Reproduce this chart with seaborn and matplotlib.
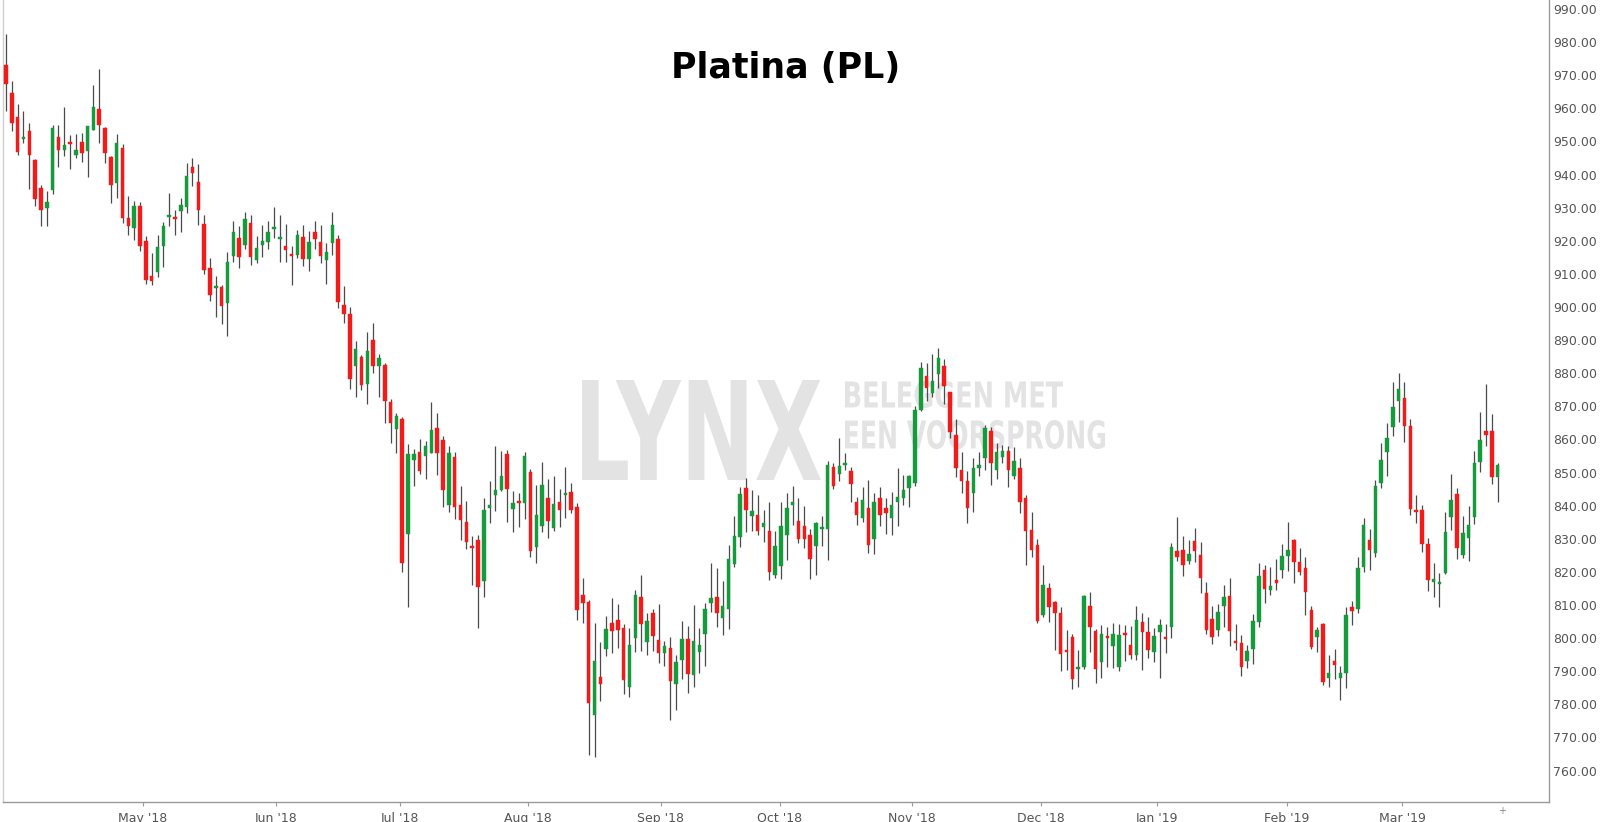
import numpy as np
import pandas as pd
import matplotlib
matplotlib.use('Agg')
import matplotlib.pyplot as plt
import seaborn as sns
from matplotlib.textpath import TextPath
from matplotlib.patches import PathPatch
from matplotlib.font_manager import FontProperties
from matplotlib.transforms import Affine2D

# ── Data: daily OHLC, platinum futures Apr 2018 - Mar 2019 ───────────────────
opens = [
    973.1, 964.5, 957.3, 950.7, 953.1, 944.4, 935.9, 930.0, 935.3, 951.2,
    947.4, 949.7, 945.8, 949.9, 947.2, 953.5, 959.7, 954.0, 945.2, 937.4,
    948.1, 926.8, 923.8, 930.5, 920.0, 909.5, 910.7, 918.4, 927.1, 927.0,
    929.0, 930.3, 942.4, 937.7, 925.1, 911.7, 905.6, 905.9, 901.1, 915.4,
    920.8, 918.7, 925.3, 914.2, 918.7, 919.5, 923.6, 920.4, 918.5, 916.1,
    915.7, 921.0, 914.6, 922.6, 919.6, 914.2, 919.3, 920.5, 900.6, 897.9,
    882.3, 885.0, 876.8, 890.0, 882.3, 882.6, 871.4, 863.1, 866.1, 831.4,
    853.8, 856.1, 855.0, 856.0, 863.4, 859.9, 840.2, 854.8, 840.1, 835.1,
    827.9, 829.7, 817.1, 839.2, 843.3, 844.8, 855.6, 838.9, 841.2, 840.7,
    850.3, 827.6, 833.9, 842.2, 833.2, 841.2, 843.2, 844.2, 839.5, 813.0,
    810.8, 776.8, 788.4, 796.6, 804.7, 805.5, 803.0, 785.3, 800.0, 812.5,
    798.9, 807.5, 799.3, 795.4, 796.9, 786.2, 793.4, 799.7, 788.9, 795.7,
    801.2, 810.5, 812.5, 806.0, 808.8, 822.4, 830.5, 845.3, 836.9, 837.2,
    833.5, 832.2, 819.1, 821.8, 831.2, 840.2, 835.5, 833.7, 831.2, 827.8,
    832.9, 832.9, 851.6, 849.6, 852.2, 850.6, 841.2, 836.2, 839.2, 829.9,
    842.2, 839.2, 836.2, 841.2, 842.2, 845.3, 846.8, 868.9, 879.2, 874.0,
    879.7, 882.2, 874.2, 861.4, 850.8, 847.3, 843.7, 851.3, 854.3, 862.4,
    850.8, 854.8, 856.5, 848.8, 851.5, 842.2, 832.7, 828.1, 807.0, 815.1,
    811.0, 807.5, 796.1, 800.4, 790.7, 791.4, 809.8, 802.0, 792.9, 800.5,
    797.7, 791.4, 801.2, 797.9, 794.9, 804.8, 801.9, 795.9, 801.7, 800.2,
    803.2, 826.4, 826.6, 823.4, 829.3, 825.0, 813.5, 805.8, 802.5, 809.7,
    812.7, 798.7, 798.4, 793.2, 796.6, 805.0, 820.6, 814.5, 817.6, 820.6,
    824.8, 829.6, 823.1, 821.3, 808.5, 800.3, 804.2, 787.9, 793.1, 787.9,
    789.6, 809.5, 808.7, 821.6, 829.6, 825.6, 846.8, 856.3, 863.7, 871.5,
    872.4, 864.1, 838.7, 838.7, 828.3, 816.8, 816.3, 819.6, 836.7, 843.5,
    825.1, 830.3, 836.7, 853.1, 862.6, 862.6, 848.6,
]
highs = [
    982.5, 968.3, 961.2, 959.2, 955.5, 944.6, 936.9, 934.9, 955.0, 955.0,
    960.5, 952.0, 952.3, 952.5, 954.7, 967.0, 972.0, 954.3, 945.6, 952.2,
    949.1, 933.5, 932.0, 931.6, 921.3, 916.2, 921.6, 925.8, 934.4, 929.3,
    932.8, 943.6, 944.9, 943.2, 927.8, 914.7, 909.4, 906.5, 916.5, 926.0,
    924.5, 928.8, 927.8, 921.3, 924.8, 926.0, 930.1, 927.8, 925.1, 918.4,
    923.3, 924.8, 922.8, 926.1, 924.9, 919.3, 928.8, 921.8, 906.2, 900.1,
    889.6, 885.5, 892.3, 895.1, 885.7, 883.0, 872.1, 867.9, 866.9, 858.7,
    857.1, 860.1, 859.4, 871.4, 868.1, 861.1, 857.9, 856.3, 845.8, 841.5,
    830.7, 831.2, 842.2, 847.5, 857.9, 856.6, 856.8, 844.5, 843.9, 856.3,
    851.0, 846.3, 853.1, 848.0, 848.8, 845.0, 851.6, 846.8, 840.9, 818.1,
    811.5, 804.5, 798.9, 806.7, 812.0, 810.2, 804.3, 803.0, 814.5, 819.1,
    807.5, 808.7, 810.3, 799.0, 800.3, 794.9, 805.2, 803.7, 810.0, 803.0,
    810.7, 822.6, 821.3, 817.1, 828.1, 836.9, 845.6, 848.3, 844.6, 843.2,
    838.7, 841.2, 832.2, 841.2, 843.7, 845.8, 842.2, 839.9, 832.9, 835.2,
    836.9, 853.5, 852.8, 860.4, 856.0, 851.8, 842.7, 845.6, 847.8, 843.7,
    845.5, 842.4, 844.2, 851.3, 849.3, 849.3, 870.1, 883.5, 883.2, 885.8,
    887.5, 884.2, 874.2, 866.1, 856.3, 850.5, 854.3, 856.3, 864.4, 863.7,
    859.0, 858.3, 858.0, 857.8, 854.5, 843.2, 838.2, 829.9, 822.1, 816.6,
    811.2, 809.3, 802.5, 801.2, 796.4, 813.0, 813.8, 802.7, 804.0, 803.5,
    804.5, 804.2, 804.0, 803.7, 809.7, 807.5, 806.5, 802.9, 805.7, 804.2,
    828.6, 836.7, 830.7, 829.6, 833.2, 829.1, 816.8, 809.7, 810.2, 816.1,
    818.1, 804.2, 800.9, 797.9, 807.3, 822.8, 822.1, 821.6, 823.8, 828.3,
    835.0, 829.9, 827.1, 824.6, 809.7, 803.5, 804.5, 794.9, 796.6, 791.6,
    809.5, 811.3, 824.6, 836.2, 832.9, 847.6, 858.8, 864.9, 877.2, 880.0,
    877.2, 866.1, 843.2, 840.2, 830.1, 822.8, 819.6, 838.2, 849.6, 845.3,
    836.9, 839.9, 856.6, 868.4, 876.8, 867.7, 853.0,
]
lows = [
    959.3, 953.2, 945.9, 949.4, 935.6, 930.6, 924.6, 924.3, 934.1, 942.2,
    945.6, 941.6, 944.9, 943.8, 939.2, 953.5, 949.6, 943.6, 931.3, 932.8,
    925.5, 921.8, 920.3, 917.0, 906.9, 906.5, 908.9, 912.2, 924.5, 921.8,
    922.5, 928.5, 936.4, 924.8, 909.9, 901.8, 897.1, 894.8, 891.1, 913.7,
    911.9, 917.4, 912.7, 913.2, 915.2, 917.4, 920.8, 913.7, 913.7, 906.5,
    914.7, 912.4, 911.0, 917.4, 913.2, 906.9, 915.7, 899.6, 895.3, 875.2,
    872.9, 874.8, 870.7, 880.2, 872.7, 865.1, 858.9, 855.8, 820.1, 809.5,
    845.8, 849.6, 848.0, 856.0, 849.3, 839.5, 838.2, 835.9, 829.7, 826.8,
    816.1, 803.0, 812.4, 834.9, 838.5, 844.3, 835.2, 831.9, 833.4, 835.9,
    824.4, 822.8, 831.9, 830.3, 832.2, 833.5, 836.4, 837.7, 805.5, 804.5,
    764.7, 764.0, 781.1, 794.6, 795.6, 796.9, 783.1, 782.3, 795.9, 796.2,
    794.9, 796.2, 792.6, 791.6, 775.3, 778.3, 787.6, 783.4, 785.2, 789.6,
    791.6, 808.0, 803.3, 801.0, 802.7, 821.4, 827.4, 832.0, 832.2, 831.2,
    828.9, 817.6, 818.1, 817.8, 823.6, 834.2, 828.6, 827.1, 817.8, 819.1,
    827.8, 823.6, 845.0, 847.3, 850.8, 841.2, 834.2, 835.2, 825.8, 825.4,
    833.7, 831.5, 831.2, 833.7, 840.2, 839.7, 845.8, 868.6, 871.7, 872.9,
    875.5, 870.7, 860.3, 848.6, 843.7, 834.7, 838.2, 849.0, 850.8, 846.3,
    848.0, 853.0, 845.6, 848.0, 837.9, 822.1, 824.4, 804.5, 806.5, 805.0,
    796.4, 790.2, 790.4, 784.5, 785.3, 790.6, 795.9, 786.4, 787.9, 791.4,
    790.9, 790.2, 793.2, 793.6, 793.4, 790.4, 793.9, 792.9, 787.9, 795.4,
    799.9, 823.4, 818.8, 822.4, 823.1, 813.5, 801.3, 798.2, 800.5, 803.5,
    797.6, 796.4, 788.6, 790.9, 792.1, 803.5, 810.7, 813.0, 814.5, 818.1,
    820.4, 816.6, 819.1, 807.0, 796.6, 795.9, 785.8, 785.3, 787.5, 781.3,
    784.8, 804.0, 807.5, 820.1, 820.6, 824.6, 845.3, 849.0, 861.1, 865.4,
    859.3, 837.2, 834.9, 826.1, 814.3, 812.3, 809.5, 819.4, 832.7, 823.8,
    824.1, 823.4, 834.5, 850.3, 858.0, 846.6, 841.2,
]
closes = [
    967.3, 955.5, 946.9, 951.2, 945.9, 932.5, 929.4, 931.7, 954.0, 947.4,
    948.8, 949.3, 947.4, 946.4, 954.5, 960.3, 954.8, 946.4, 936.7, 949.4,
    926.8, 924.3, 930.5, 918.4, 908.1, 907.7, 918.0, 924.3, 927.4, 926.5,
    930.7, 939.4, 940.4, 929.3, 911.2, 903.6, 906.0, 900.4, 913.5, 922.6,
    915.0, 926.6, 915.2, 917.7, 920.0, 922.5, 924.1, 920.7, 917.2, 915.3,
    921.6, 914.4, 919.7, 920.5, 915.5, 916.5, 924.9, 901.4, 897.8, 878.2,
    887.4, 876.5, 886.8, 882.2, 884.6, 871.7, 864.9, 867.2, 822.6, 855.6,
    855.6, 850.6, 858.1, 862.9, 855.8, 844.6, 855.8, 839.5, 835.7, 829.1,
    827.1, 815.4, 838.7, 840.1, 844.8, 849.0, 845.0, 840.7, 840.8, 855.1,
    826.4, 837.2, 846.3, 835.5, 840.5, 838.7, 843.5, 838.7, 808.5, 810.7,
    780.5, 793.2, 786.2, 802.6, 802.0, 802.5, 787.2, 797.9, 813.0, 804.3,
    805.3, 800.7, 795.6, 797.7, 786.9, 792.9, 799.7, 789.2, 799.0, 797.9,
    808.7, 812.0, 807.5, 809.8, 823.9, 830.9, 843.4, 838.7, 838.5, 832.2,
    834.7, 820.1, 827.8, 833.7, 839.2, 841.2, 829.9, 829.9, 823.8, 834.7,
    833.3, 852.3, 845.8, 852.0, 852.6, 846.5, 837.2, 841.7, 828.1, 841.0,
    837.1, 837.7, 840.2, 842.7, 844.8, 848.8, 868.9, 881.7, 875.5, 877.5,
    884.7, 876.2, 862.1, 851.3, 847.3, 839.4, 851.3, 852.3, 863.4, 852.8,
    856.3, 856.5, 850.8, 853.5, 841.2, 832.2, 826.6, 805.3, 816.1, 809.5,
    807.5, 795.1, 795.7, 787.6, 791.0, 812.8, 803.2, 790.6, 801.3, 800.1,
    801.3, 801.0, 800.9, 794.9, 805.5, 801.7, 796.4, 800.6, 804.0, 799.6,
    827.4, 824.4, 822.1, 825.4, 826.4, 818.1, 802.5, 800.2, 807.8, 812.3,
    802.2, 798.4, 791.4, 796.2, 805.2, 818.6, 814.7, 815.7, 816.6, 824.8,
    826.6, 823.1, 820.1, 814.0, 797.4, 802.5, 786.6, 789.6, 791.9, 789.4,
    807.0, 808.3, 821.1, 834.2, 826.6, 845.9, 853.8, 860.5, 869.9, 875.2,
    863.9, 839.0, 838.2, 828.3, 817.4, 817.8, 816.9, 832.0, 841.7, 827.1,
    831.6, 834.2, 852.8, 859.9, 861.4, 848.6, 852.3,
]

month_labels = ["May '18", "Jun '18", "Jul '18", "Aug '18", "Sep '18", "Oct '18",
                "Nov '18", "Dec '18", "Jan '19", "Feb '19", "Mar '19"]
month_ticks = [23.5, 46.3, 67.6, 89.5, 112.4, 132.8, 155.5, 177.6, 197.5, 219.8, 239.6]
price_ticks = list(range(760, 1000, 10))

# ── Frame ────────────────────────────────────────────────────────────────────
df = pd.DataFrame({'open': opens, 'high': highs, 'low': lows, 'close': closes})
df['idx'] = np.arange(len(df))
df['up'] = df['close'] >= df['open']
df['body_lo'] = df[['open', 'close']].min(axis=1)
df['body_h'] = (df['close'] - df['open']).abs().clip(lower=0.6)

UP = '#159a3c'
DOWN = '#f21b1b'
WICK = '#4a4a4a'
W, H = 1600, 822

sns.set_theme(style='white')
plt.rcParams['font.family'] = ['DejaVu Sans']

fig = plt.figure(figsize=(W / 100, H / 100), dpi=100)
ax = fig.add_axes([3 / W, 20 / H, 1546 / W, 802 / H])


# ── Watermark (condensed by squeezing the glyph outlines) ────────────────────
def watermark(text, x0, x1, y_top, y_bot):
    tp = TextPath((0, 0), text, size=100,
                  prop=FontProperties(family='DejaVu Sans', weight='bold'))
    ext = tp.get_extents()
    sx = (x1 - x0) / ext.width
    sy = (y_bot - y_top) / ext.height
    tr = (Affine2D().translate(-ext.x0, -ext.y0).scale(sx, sy)
          .translate(x0, H - y_bot))
    patch = PathPatch(tp, facecolor='#e3e3e3', edgecolor='none',
                      transform=tr, zorder=1)
    ax.add_patch(patch)


watermark('LYNX', 582, 821, 380, 480)
watermark('BELEGGEN MET', 845, 1063, 381, 408)
watermark('EEN VOORSPRONG', 845, 1105, 420, 449)

# ── Candles ──────────────────────────────────────────────────────────────────
ax.vlines(df['idx'], df['low'], df['high'], color=WICK, linewidth=0.9, zorder=2)
colors = np.where(df['up'], UP, DOWN)
ax.bar(df['idx'], df['body_h'], bottom=df['body_lo'], width=0.6,
       color=colors, edgecolor=colors, linewidth=0.3, zorder=3)

# ── Axes styling ─────────────────────────────────────────────────────────────
ax.set_xlim(-0.515, 264.8)
ax.set_ylim(750.5, 992.7)

ax.yaxis.tick_right()
ax.set_yticks(price_ticks)
ax.set_yticklabels([f'{v:.2f}' for v in price_ticks])
ax.set_xticks(month_ticks)
ax.set_xticklabels(month_labels)
ax.tick_params(axis='y', length=0, pad=3, labelsize=9, labelcolor='#555555')
ax.tick_params(axis='x', length=3, width=0.8, color='#999999', pad=4,
               labelsize=9, labelcolor='#555555', bottom=True)

ax.spines['top'].set_visible(False)
ax.spines['right'].set_color('#9a9a9a')
ax.spines['bottom'].set_color('#9a9a9a')
ax.spines['left'].set_color('#cfcfcf')
for s in ['right', 'bottom', 'left']:
    ax.spines[s].set_linewidth(1.0)
ax.grid(False)

fig.text(0.491, 0.917, 'Platina (PL)', fontsize=25, fontweight='bold',
         color='black', ha='center', va='center')
fig.text(1502 / W, 1 - 811 / H, '+', fontsize=7, color='#888888',
         ha='center', va='center')

fig.savefig('out.png', dpi=100)
plt.close(fig)
print('Saved: out.png')
